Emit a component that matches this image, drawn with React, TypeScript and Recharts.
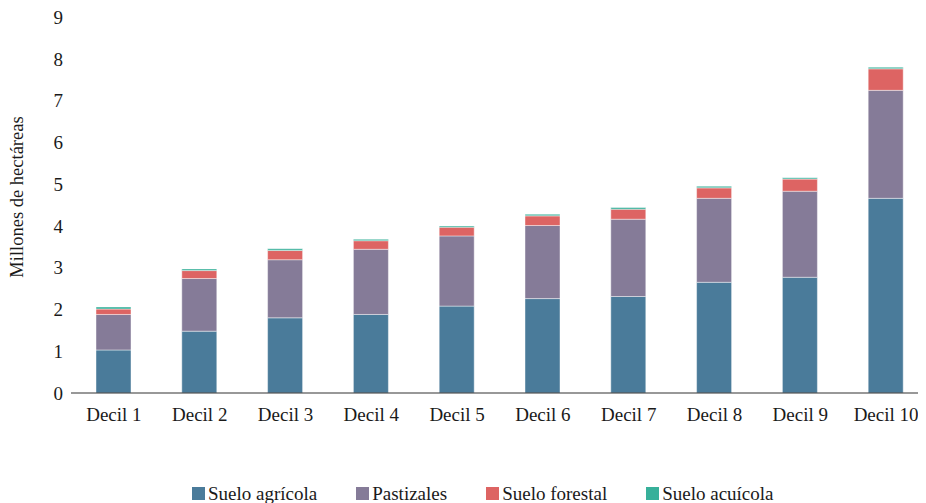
import React from 'react';
import { BarChart, Bar, XAxis, YAxis, Legend, Label } from 'recharts';

const categories = ['Decil 1', 'Decil 2', 'Decil 3', 'Decil 4', 'Decil 5', 'Decil 6', 'Decil 7', 'Decil 8', 'Decil 9', 'Decil 10'];
const sueloAgricola = [1.03, 1.48, 1.8, 1.88, 2.08, 2.26, 2.31, 2.65, 2.77, 4.66];
const pastizales = [0.85, 1.26, 1.39, 1.56, 1.68, 1.75, 1.85, 2.01, 2.06, 2.585];
const sueloForestal = [0.13, 0.19, 0.22, 0.205, 0.21, 0.23, 0.24, 0.25, 0.29, 0.515];
const sueloAcuicola = [0.05, 0.04, 0.04, 0.035, 0.03, 0.04, 0.04, 0.04, 0.03, 0.04];
const yTicks = [0, 1, 2, 3, 4, 5, 6, 7, 8, 9];

const series = [
  { key: 'agricola', name: 'Suelo agrícola', color: '#4a7b9a', values: sueloAgricola },
  { key: 'pastizales', name: 'Pastizales', color: '#857b98', values: pastizales },
  { key: 'forestal', name: 'Suelo forestal', color: '#dd6463', values: sueloForestal },
  { key: 'acuicola', name: 'Suelo acuícola', color: '#37b09a', values: sueloAcuicola },
];

const data = categories.map((c, i) => {
  const row: Record<string, any> = { name: c };
  series.forEach((s) => {
    row[s.key] = s.values[i];
  });
  return row;
});

const FONT = '"Liberation Serif", "Times New Roman", serif';

const renderLegend = () => (
  <div style={{ display: 'flex', alignItems: 'center', fontFamily: FONT, fontSize: 19, lineHeight: '19px', color: '#1a1a1a', whiteSpace: 'nowrap' }}>
    {series.map((s, i) => (
      <div key={s.key} style={{ display: 'flex', alignItems: 'center', marginRight: i < series.length - 1 ? 39 : 0 }}>
        <span style={{ display: 'inline-block', width: 13, height: 13, background: s.color, marginRight: 3 }} />
        <span>{s.name}</span>
      </div>
    ))}
  </div>
);

export default function App() {
  return (
    <div style={{ width: 918, height: 495, overflow: 'hidden' }}>
      <BarChart
        width={921}
        height={495}
        data={data}
        margin={{ top: 9, right: 0, bottom: 80, left: 0 }}
        barSize={35}
      >
        <XAxis
          dataKey="name"
          tickLine={false}
          axisLine={{ stroke: '#333333', strokeWidth: 1.2 }}
          tickMargin={9}
          interval={0}
          tick={{ fill: '#1a1a1a', fontSize: 19, fontFamily: FONT }}
          height={30}
        />
        <YAxis
          width={63}
          domain={[0, 9]}
          ticks={yTicks}
          tickLine={false}
          axisLine={false}
          interval={0}
          tick={{ fill: '#1a1a1a', fontSize: 19, fontFamily: FONT }}
        >
          <Label
            content={() => (
              <text
                x={9}
                y={189}
                transform="rotate(-90, 9, 189)"
                textAnchor="middle"
                dominantBaseline="central"
                fill="#1a1a1a"
                fontSize={18.5}
                fontFamily={FONT}
              >
                Millones de hectáreas
              </text>
            )}
          />
        </YAxis>
        <Legend
          layout="horizontal"
          verticalAlign="middle"
          align="center"
          content={renderLegend}
          wrapperStyle={{ top: 476, left: 184, width: 'auto', height: 'auto' }}
        />
        {series.map((s) => (
          <Bar
            key={s.key}
            dataKey={s.key}
            name={s.name}
            stackId="a"
            fill={s.color}
            stroke="rgba(255,255,255,0.55)"
            strokeWidth={0.8}
            isAnimationActive={false}
          />
        ))}
      </BarChart>
    </div>
  );
}
